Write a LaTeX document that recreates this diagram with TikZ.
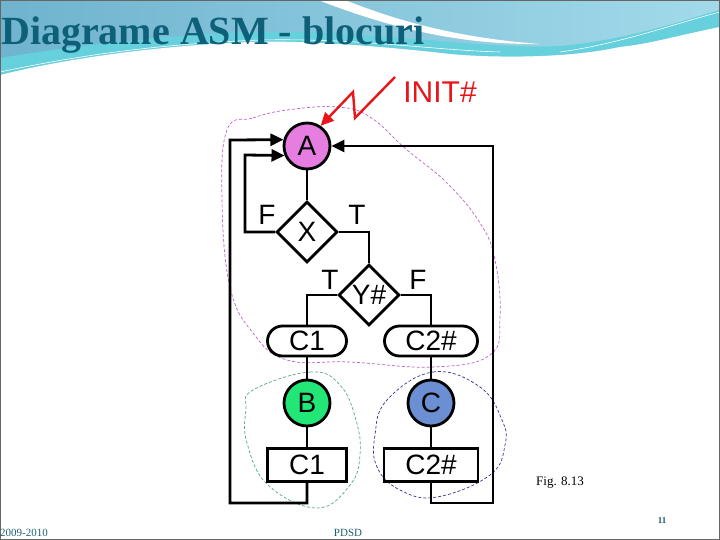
\documentclass[tikz,border=0pt]{standalone}
\usepackage{fontspec}
\setmainfont{Liberation Serif}
\newfontfamily\diagfont{Liberation Sans}
\usetikzlibrary{shapes.geometric,arrows.meta,calc}
\definecolor{titleblue}{HTML}{0E5F78}
\definecolor{footteal}{HTML}{1F5F6F}
\definecolor{hdrA}{HTML}{6FB3CE}
\definecolor{hdrB}{HTML}{A2DAEA}
\definecolor{cyanband}{HTML}{66D0DD}
\definecolor{stA}{HTML}{E57EE0}
\definecolor{stB}{HTML}{22E676}
\definecolor{stC}{HTML}{6B8FD2}
\definecolor{initred}{HTML}{E8161B}
\definecolor{blobM}{HTML}{C060C8}
\definecolor{blobG}{HTML}{5AA57E}
\definecolor{blobB}{HTML}{34349A}
\tikzset{
  every node/.style={font=\diagfont\fontsize{28}{32}\selectfont},
  statenode/.style={circle,draw,line width=2.8pt,minimum size=46pt,inner sep=0pt},
  condnode/.style={diamond,draw,line width=2.8pt,minimum width=61pt,minimum height=61pt,inner sep=0pt},
  ovalbox/.style={rectangle,rounded corners=15pt,draw,line width=2.8pt,minimum height=30pt,inner sep=0pt},
  cmdbox/.style={rectangle,draw,line width=2.8pt,minimum height=33pt,inner sep=0pt},
  flow/.style={line width=2.8pt},
  flowarr/.style={line width=2.8pt,-{Triangle[length=13pt,width=12pt]}},
  lbl/.style={inner sep=0pt},
  blob/.style={line width=0.7pt,dash pattern=on 3pt off 2pt}
}
\begin{document}
\begin{tikzpicture}[x=1pt,y=-1pt]
\useasboundingbox (0,0) rectangle (720,540);
% ---------- header background ----------
\shade[left color=hdrA,right color=hdrB] (0,0) rectangle (720,85);
% white swoosh from top
\fill[white] (318,0) -- (345,0) .. controls (400,22) and (460,38) .. (540,44)
   .. controls (460,45) and (390,28) .. (318,0) -- cycle;
% cyan band above lower edge
\fill[cyanband] (0,58) .. controls (60,48) and (150,36) .. (250,32)
   .. controls (380,30) and (480,50) .. (560,46)
   .. controls (630,40) and (690,18) .. (720,10)
   -- (720,27) .. controls (680,35) and (650,44) .. (620,47)
   .. controls (560,60) and (480,57) .. (450,54)
   .. controls (380,46) and (300,40) .. (250,42)
   .. controls (150,46) and (60,60) .. (0,75) -- cycle;
% white lower region
\fill[white] (0,75) .. controls (60,60) and (150,46) .. (250,42)
   .. controls (300,40) and (380,46) .. (450,54)
   .. controls (480,57) and (560,60) .. (620,47)
   .. controls (650,44) and (680,35) .. (720,27)
   -- (720,540) -- (0,540) -- cycle;
% thin streaks
\draw[white,line width=0.6pt] (0,72) .. controls (80,55) and (160,44) .. (260,40) .. controls (360,38) and (430,50) .. (500,52);
\draw[white,line width=0.6pt] (560,52) .. controls (620,44) and (680,22) .. (720,12);
% frame
\draw[gray!80!black,line width=1.2pt] (0.6,0.6) rectangle (719.4,539.4);
% title
\node[anchor=base west,inner sep=0pt,font=\bfseries\fontsize{40}{44}\selectfont,text=titleblue] (title) at (1,45) {Diagrame ASM - blocuri};
% footer
\node[anchor=base west,inner sep=0pt,font=\fontsize{11}{12}\selectfont,text=footteal] (year) at (0,536) {2009-2010};
\node[anchor=base,inner sep=0pt,font=\fontsize{11}{12}\selectfont,text=footteal] (pdsd) at (348,536) {PDSD};
\node[anchor=base,inner sep=0pt,font=\bfseries\fontsize{9}{10}\selectfont,text=footteal] (pnum) at (662,523) {11};
\node[anchor=base west,inner sep=0pt,font=\fontsize{13}{14}\selectfont] (fig) at (536,485) {Fig. 8.13};
% ---------- blobs ----------
\draw[blob,blobM] plot[smooth cycle,tension=0.7] coordinates {(227,130) (253,118) (287,110) (337,107) (370,117) (407,150) (447,183) (480,223) (495,260) (500,317) (490,355) (433,367) (350,362) (287,360) (253,333) (230,287) (222,200)};
\draw[blob,blobG] plot[smooth cycle,tension=0.7] coordinates {(253,390) (310,372) (340,385) (356,420) (360,455) (350,485) (317,508) (268,485) (247,443) (246,410)};
\draw[blob,blobB] plot[smooth cycle,tension=0.7] coordinates {(387,400) (433,372) (480,387) (502,420) (505,445) (490,475) (437,497) (400,490) (377,467) (375,435)};
% ---------- nodes ----------
\node[statenode,fill=stA] (A) at (307,146) {A};
\node[condnode] (X) at (307,232) {X};
\node[condnode] (Y) at (369,295) {Y\#};
\node[ovalbox,minimum width=79pt] (C1o) at (307,341) {C1};
\node[ovalbox,minimum width=93pt] (C2o) at (431,341) {C2\#};
\node[statenode,fill=stB] (B) at (307,403) {B};
\node[statenode,fill=stC] (C) at (431,403) {C};
\node[cmdbox,minimum width=79pt] (C1r) at (307,465) {C1};
\node[cmdbox,minimum width=94pt] (C2r) at (431,465) {C2\#};
\node[lbl] (lF1) at (267,215) {F};
\node[lbl] (lT1) at (357,215) {T};
\node[lbl] (lT2) at (330,280) {T};
\node[lbl] (lF2) at (418,280) {F};
\node[lbl,text=initred,font=\diagfont\fontsize{30}{34}\selectfont] (init) at (440,92) {INIT\#};
% ---------- connectors ----------
\draw[flow] (A.south) -- (X.north);
\draw[flowarr] (X.west) -- (245,232) -- (245,155) -- (A.203);
\draw[flow] (X.east) -- (369,232) -- (Y.north);
\draw[flow] (Y.west) -- (307,295) -- (C1o.north);
\draw[flow] (Y.east) -- (431,295) -- (C2o.north);
\draw[flow] (C1o.south) -- (B.north);
\draw[flow] (B.south) -- (C1r.north);
\draw[flow] (C2o.south) -- (C.north);
\draw[flow] (C.south) -- (C2r.north);
\draw[flowarr] (C1r.south) -- (307,503) -- (230,503) -- (230,140) -- (A.165);
\draw[flowarr] (C2r.south) -- (431,503) -- (493,503) -- (493,146) -- (A.east);
\coordinate (zz) at (395,77);
\draw[initred,line width=2.4pt,-{Triangle[length=13pt,width=12pt]}] (zz) -- (355,118) -- (353,92) -- (A.56);
\end{tikzpicture}
\end{document}
